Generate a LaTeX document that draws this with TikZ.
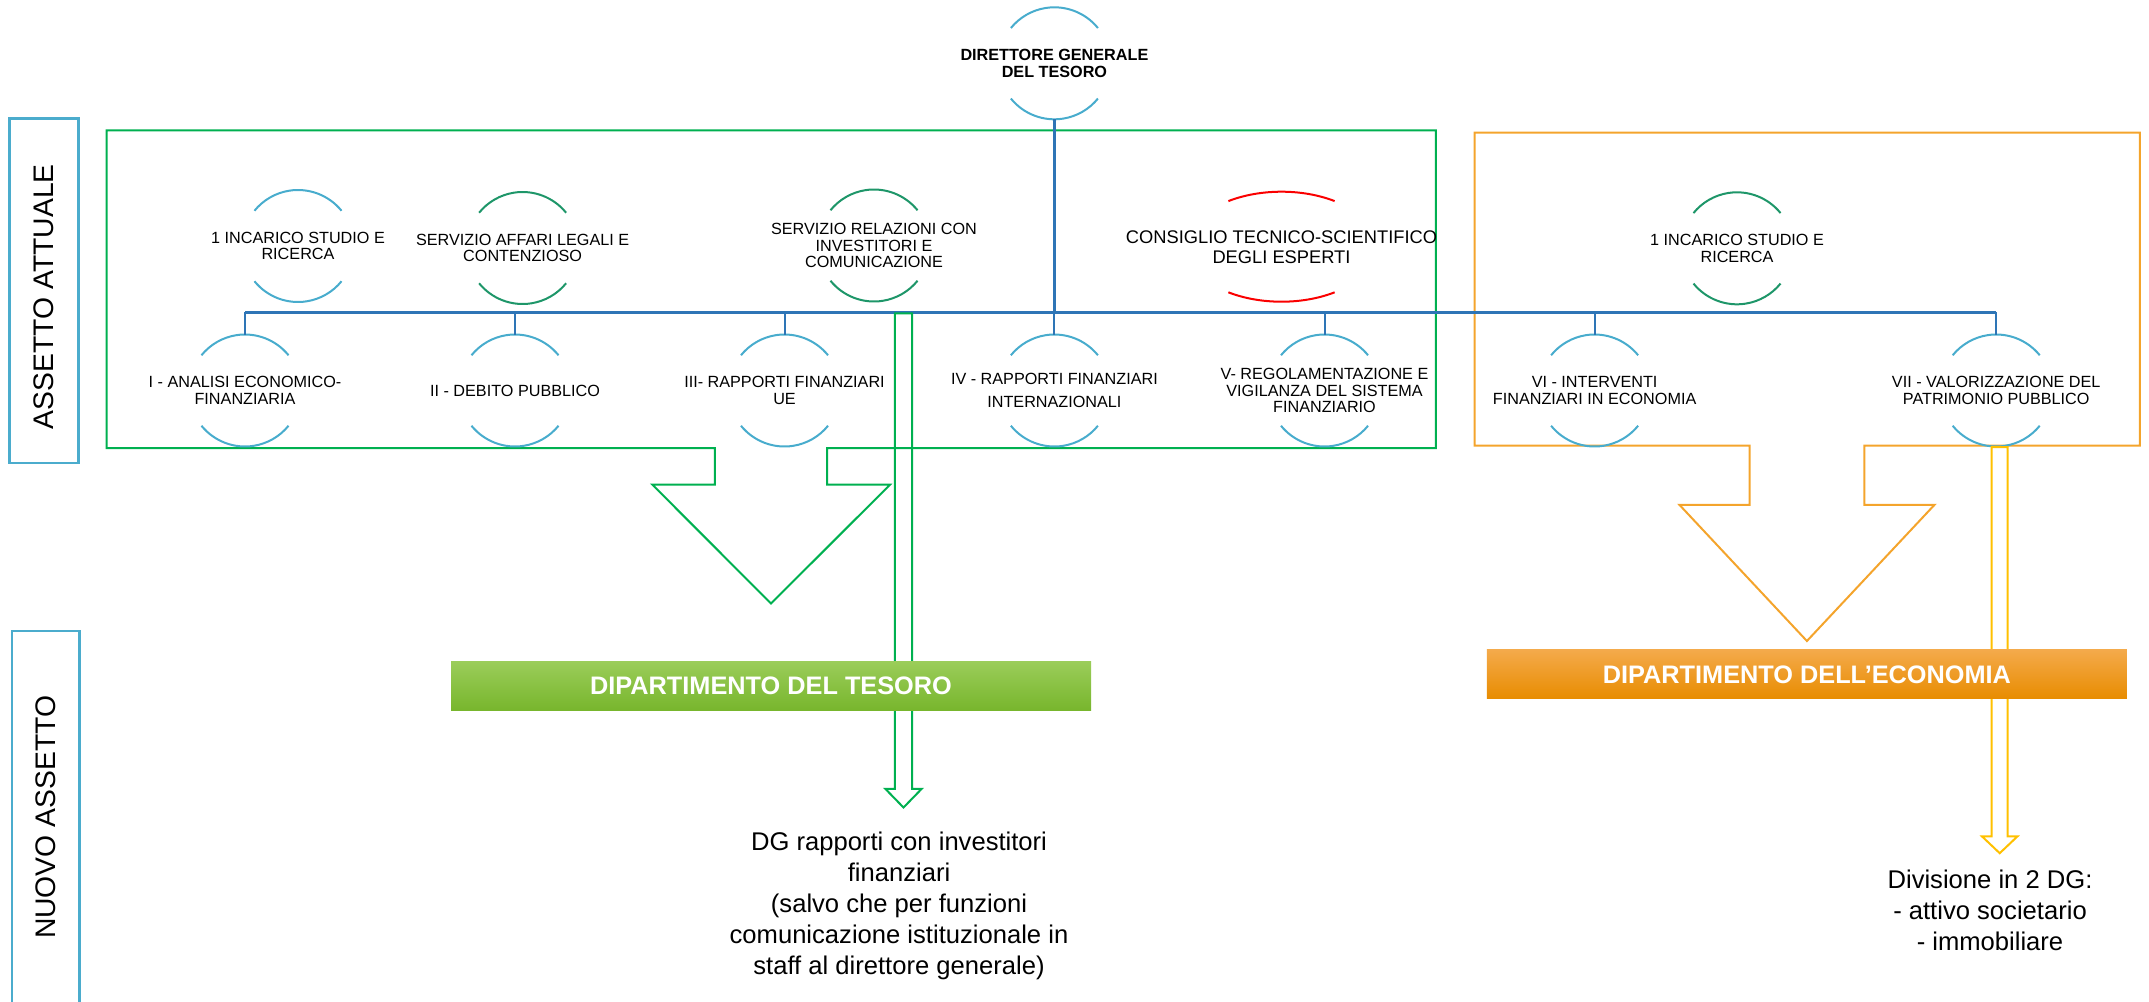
\documentclass[tikz,border=0pt]{standalone}
\usepackage{fontspec}
\setmainfont{Liberation Sans}
\definecolor{arccyan}{RGB}{72,172,205}
\definecolor{arcgreen}{RGB}{30,150,105}
\definecolor{arcred}{RGB}{250,0,0}
\definecolor{busblue}{RGB}{46,117,182}
\definecolor{boxgreen}{RGB}{0,176,80}
\definecolor{boxorange}{RGB}{244,164,44}
\definecolor{arrowyellow}{RGB}{255,192,0}
\definecolor{sidecyan}{RGB}{75,172,205}
\definecolor{bargreenT}{RGB}{155,205,90}
\definecolor{bargreenB}{RGB}{120,182,45}
\definecolor{barorangeT}{RGB}{244,170,75}
\definecolor{barorangeM}{RGB}{250,160,20}
\definecolor{barorangeB}{RGB}{232,140,0}
\tikzset{
  unittext/.style={align=center, inner sep=0pt, font=\fontsize{16.2}{16.7}\selectfont},
  arcline/.style={line width=2pt},
  busline/.style={draw=busblue, line width=3pt},
  dropline/.style={draw=busblue, line width=2pt},
  greenframe/.style={draw=boxgreen, line width=2pt, line join=miter},
  orangeframe/.style={draw=boxorange, line width=2pt, line join=miter},
  sideframe/.style={draw=sidecyan, line width=2.5pt},
  sidetext/.style={rotate=90, inner sep=0pt, font=\fontsize{28.3}{30}\selectfont},
  harrowgreen/.style={draw=boxgreen, line width=2pt, line join=miter},
  harrowyellow/.style={draw=arrowyellow, line width=2pt, line join=miter},
  deptbar/.style={minimum width=640pt, minimum height=49pt, inner sep=0pt, text=white,
    font=\bfseries\fontsize{25.3}{30}\selectfont},
  bigtext/.style={align=center, inner sep=0pt, font=\fontsize{25.6}{31}\selectfont}
}
\newcommand\orgunit[5]{%
  \node[unittext] (#1) at (#2,#3) {#5};
  \draw[arcline,#4] ([shift={(39:56pt)}]#1.center) arc[start angle=39,end angle=141,radius=56pt];
  \draw[arcline,#4] ([shift={(219:56pt)}]#1.center) arc[start angle=219,end angle=321,radius=56pt];
}
\begin{document}
\begin{tikzpicture}[x=1pt,y=-1pt]
\useasboundingbox (0,0) rectangle (2149,1001);

% side labels
\draw[sideframe] (9.3,118.3) rectangle (78.3,463);
\node[sidetext] (attuale) at (43.5,296.7) {ASSETTO ATTUALE};
\draw[sideframe] (12,1003) -- (12,631) -- (79.3,631) -- (79.3,1003);
\node[sidetext] (nuovo) at (46,817.3) {NUOVO ASSETTO};

% frames with big arrows
\draw[greenframe] (106.6,130.3) -- (1435.8,130.3) -- (1435.8,448) -- (827,448) -- (827,484.7)
  -- (890,484.7) -- (771,603.5) -- (652.4,484.7) -- (714.8,484.7) -- (714.8,448) -- (106.6,448) -- cycle;
\draw[orangeframe] (1474.7,132.7) -- (2139.8,132.7) -- (2139.8,445.7) -- (1864.4,445.7) -- (1864.4,504.8)
  -- (1934.5,504.8) -- (1806.9,641) -- (1679.4,504.8) -- (1749.5,504.8) -- (1749.5,445.7) -- (1474.7,445.7) -- cycle;

% director
\node[unittext, font=\bfseries\fontsize{16.2}{16.7}\selectfont] (DG) at (1054.4,63.3) {DIRETTORE GENERALE\\DEL TESORO};
\draw[arcline,arccyan] ([shift={(39:56pt)}]DG.center) arc[start angle=39,end angle=141,radius=56pt];
\draw[arcline,arccyan] ([shift={(219:56pt)}]DG.center) arc[start angle=219,end angle=321,radius=56pt];

% upper row
\orgunit{inc1}{298}{246}{arccyan}{1 INCARICO STUDIO E\\RICERCA}
\orgunit{legal}{522.6}{248}{arcgreen}{SERVIZIO AFFARI LEGALI E\\CONTENZIOSO}
\orgunit{rel}{874}{245.5}{arcgreen}{SERVIZIO RELAZIONI CON\\INVESTITORI E\\COMUNICAZIONE}
\orgunit{inc2}{1737}{248.3}{arcgreen}{1 INCARICO STUDIO E\\RICERCA}
\node[unittext, font=\fontsize{18.3}{20}\selectfont] (cons) at (1281.5,246.7) {CONSIGLIO TECNICO-SCIENTIFICO\\DEGLI ESPERTI};
\draw[arcline,arcred] ([shift={(56:95pt and 55pt)}]cons.center) arc[start angle=56,end angle=124,x radius=95pt,y radius=55pt];
\draw[arcline,arcred] ([shift={(236:95pt and 55pt)}]cons.center) arc[start angle=236,end angle=304,x radius=95pt,y radius=55pt];

% lower row
\orgunit{d1}{245}{390.5}{arccyan}{I - ANALISI ECONOMICO-\\FINANZIARIA}
\orgunit{d2}{515}{390.5}{arccyan}{II - DEBITO PUBBLICO}
\orgunit{d3}{784.5}{390.5}{arccyan}{III- RAPPORTI FINANZIARI\\UE}
\orgunit{d4}{1054.4}{390.5}{arccyan}{IV - RAPPORTI FINANZIARI\\[6.7pt]INTERNAZIONALI}
\orgunit{d5}{1324.5}{390.5}{arccyan}{V- REGOLAMENTAZIONE E\\VIGILANZA DEL SISTEMA\\FINANZIARIO}
\orgunit{d6}{1594.6}{390.5}{arccyan}{VI - INTERVENTI\\FINANZIARI IN ECONOMIA}
\orgunit{d7}{1996.2}{390.5}{arccyan}{VII - VALORIZZAZIONE DEL\\PATRIMONIO PUBBLICO}

% bus
\coordinate (busL) at (245,312);
\coordinate (busR) at (1996.2,312);
\draw[busline] ([yshift=-56pt]DG.center) -- (DG.center |- busL);
\draw[busline] (busL) -- (busR);
\foreach \n in {d1,d2,d3,d4,d5,d6,d7}{
  \draw[dropline] (\n.center |- busL) -- ([yshift=56pt]\n.center);
}

% bottom texts
\node[bigtext] (dgtext) at (899,906) {DG rapporti con investitori\\finanziari\\(salvo che per funzioni\\comunicazione istituzionale in\\staff al direttore generale)};
\node[bigtext] (divtext) at (1990,910) {Divisione in 2 DG:\\- attivo societario\\- immobiliare};

% hollow arrows
\coordinate (gaTop) at (903.5,313.3);
\coordinate (gaTip) at (903.5,807.5);
\draw[harrowgreen] ([xshift=-8.7pt]gaTop) -- ([xshift=-8.7pt,yshift=18.7pt]gaTip) -- ([xshift=-18.2pt,yshift=18.7pt]gaTip)
  -- (gaTip) -- ([xshift=18.2pt,yshift=18.7pt]gaTip) -- ([xshift=8.7pt,yshift=18.7pt]gaTip) -- ([xshift=8.7pt]gaTop) -- cycle;
\coordinate (yaTop) at (1999.7,447);
\coordinate (yaTip) at (1999.7,853.2);
\draw[harrowyellow] ([xshift=-8pt]yaTop) -- ([xshift=-8pt,yshift=16.8pt]yaTip) -- ([xshift=-17.7pt,yshift=16.8pt]yaTip)
  -- (yaTip) -- ([xshift=17.7pt,yshift=16.8pt]yaTip) -- ([xshift=8pt,yshift=16.8pt]yaTip) -- ([xshift=8pt]yaTop) -- cycle;

% department bars
\node[deptbar, top color=bargreenT, bottom color=bargreenB] (tesoro) at (771,685.5) {DIPARTIMENTO DEL TESORO};
\node[deptbar, top color=barorangeT, middle color=barorangeM, bottom color=barorangeB] (economia) at (1806.9,674.4) {DIPARTIMENTO DELL’ECONOMIA};
\end{tikzpicture}
\end{document}
